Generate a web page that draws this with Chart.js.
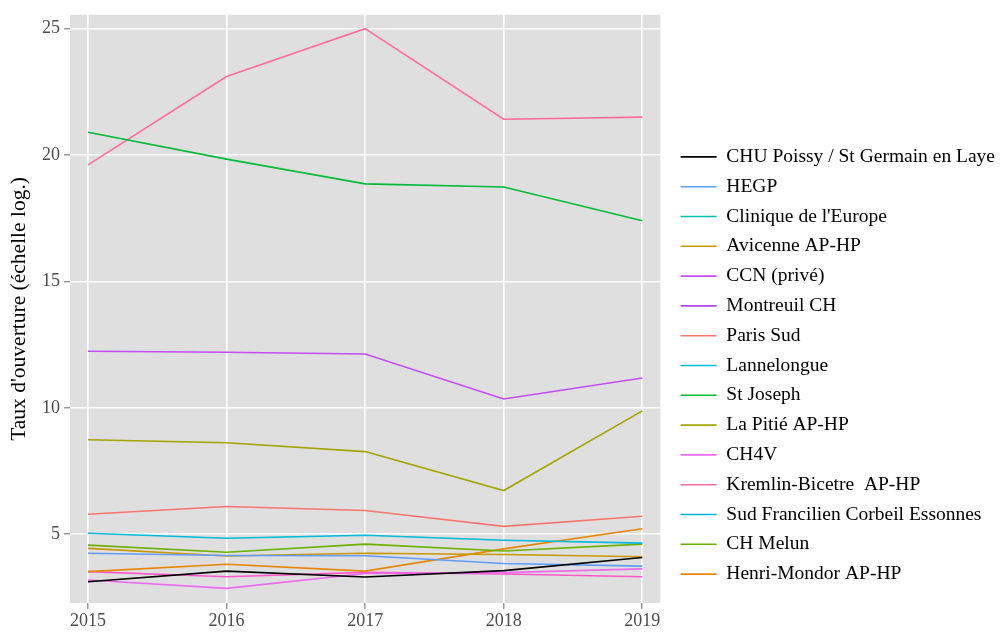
<!DOCTYPE html>
<html>
<head>
<meta charset="utf-8">
<script src="https://cdn.jsdelivr.net/npm/chart.js@4.4.1/dist/chart.umd.min.js"></script>
<style>
  html, body { margin: 0; padding: 0; background: #fff; }
  #wrap { width: 1005px; height: 637px; }
</style>
</head>
<body>
<div id="wrap"><canvas id="graficoTaux"></canvas></div>
<script>
const years = [2015, 2016, 2017, 2018, 2019];
const yTicks = [5, 10, 15, 20, 25];

const chuPoissy = [3.12, 3.54, 3.31, 3.56, 4.08];
const hegp = [4.25, 4.16, 4.15, 3.84, 3.74];
const cliniqueEurope = [];
const avicenne = [4.44, 4.14, 4.25, 4.20, 4.11];
const ccn = [12.24, 12.20, 12.13, 10.35, 11.18];
const montreuil = [];
const parisSud = [5.79, 6.10, 5.94, 5.31, 5.71];
const lannelongue = [5.04, 4.84, 4.96, 4.76, 4.65];
const stJoseph = [20.90, 19.84, 18.86, 18.74, 17.40];
const laPitie = [8.74, 8.62, 8.27, 6.73, 9.88];
const ch4v = [3.19, 2.86, 3.45, 3.48, 3.63];
const kremlin = [19.61, 23.11, 25.00, 21.42, 21.50];
const sudFrancilien = [];
const chMelun = [4.57, 4.29, 4.61, 4.34, 4.61];
const henriMondor = [3.52, 3.81, 3.54, 4.42, 5.22];
const autre = [3.52, 3.32, 3.49, 3.43, 3.32];

const series = [
  ['CHU Poissy / St Germain en Laye', chuPoissy, '#000000'],
  ['HEGP', hegp, '#619CFF'],
  ["Clinique de l'Europe", cliniqueEurope, '#00C0AF'],
  ['Avicenne AP-HP', avicenne, '#C99800'],
  ['CCN (privé)', ccn, '#C44CF5'],
  ['Montreuil CH', montreuil, '#B349F2'],
  ['Paris Sud', parisSud, '#F8766D'],
  ['Lannelongue', lannelongue, '#00BCD8'],
  ['St Joseph', stJoseph, '#00BA38'],
  ['La Pitié AP-HP', laPitie, '#A3A500'],
  ['CH4V', ch4v, '#EB6AEE'],
  ['Kremlin-Bicetre  AP-HP', kremlin, '#FF6C9E'],
  ['Sud Francilien Corbeil Essonnes', sudFrancilien, '#00B2E2'],
  ['CH Melun', chMelun, '#6BB100'],
  ['Henri-Mondor AP-HP', henriMondor, '#E58700'],
  ['', autre, '#FF58CB']
];

// gap between the grey panel and the legend keys
const legendGap = 10;

const panelBg = {
  id: 'panelBg',
  beforeDraw(chart) {
    const { ctx, chartArea: a } = chart;
    ctx.save();
    ctx.fillStyle = '#dfdfdf';
    ctx.fillRect(a.left, a.top, a.width, a.height);
    ctx.restore();
  }
};

const serif = "'Liberation Serif', 'DejaVu Serif', serif";

function draw() {
  const ctx = document.getElementById('graficoTaux').getContext('2d');

  const chart = new Chart(ctx, {
    type: 'line',
    data: {
      datasets: series.map(([label, values, color]) => ({
        label: label,
        data: values.map((v, i) => ({ x: years[i], y: v })),
        borderColor: color,
        backgroundColor: color,
        borderWidth: 1.6,
        pointRadius: 0,
        pointStyle: 'line',
        fill: false,
        tension: 0
      }))
    },
    options: {
      responsive: true,
      maintainAspectRatio: false,
      animation: false,
      layout: { padding: { top: 12, left: 4, bottom: 2, right: 0 } },
      plugins: {
        tooltip: { enabled: false },
        legend: {
          position: 'right',
          align: 'center',
          maxWidth: 420,
          title: { display: true, text: ' ', padding: { top: 60, bottom: 0 }, font: { family: serif, size: 20 } },
          labels: {
            usePointStyle: true,
            pointStyleWidth: 36,
            padding: 10.3,
            color: '#000',
            font: { family: serif, size: 19.5 },
            filter: item => item.text !== ''
          }
        }
      },
      scales: {
        x: {
          type: 'linear',
          min: 2014.87,
          max: 2019.13,
          afterBuildTicks: scale => { scale.ticks = years.map(v => ({ value: v })); },
          afterFit: scale => { scale.height = 32; },
          border: { display: false },
          grid: { color: '#ffffff', lineWidth: 1.6, drawTicks: true, tickLength: 6, tickColor: '#808080', tickWidth: 1.2 },
          ticks: { color: '#4d4d4d', padding: 1, maxRotation: 0, font: { family: serif, size: 18 }, callback: v => String(v) }
        },
        y: {
          min: 2.28,
          max: 25.55,
          afterBuildTicks: scale => { scale.ticks = yTicks.map(v => ({ value: v })); },
          afterFit: scale => { scale.width = 66; },
          border: { display: false },
          grid: { color: '#ffffff', lineWidth: 1.6, drawTicks: true, tickLength: 6, tickColor: '#808080', tickWidth: 1.2 },
          ticks: { color: '#4d4d4d', padding: 4, font: { family: serif, size: 18 } },
          title: { display: true, text: "Taux d'ouverture (échelle log.)", color: '#000', padding: 2, font: { family: serif, size: 21.5 } }
        }
      }
    },
    plugins: [panelBg]
  });

  // widen the legend box and push its content right, leaving a gap after the panel
  const lg = chart.legend;
  const fit0 = lg.fit.bind(lg);
  lg.fit = () => { fit0(); lg.width += legendGap; };
  const draw0 = lg.draw.bind(lg);
  lg.draw = (area) => {
    lg.ctx.save();
    lg.ctx.translate(legendGap, 0);
    draw0(area);
    lg.ctx.restore();
  };
  chart.update();
}

Promise.all([
  document.fonts.load("19.5px 'Liberation Serif'"),
  document.fonts.load("18px 'Liberation Serif'")
]).then(draw, draw);
</script>
</body>
</html>
